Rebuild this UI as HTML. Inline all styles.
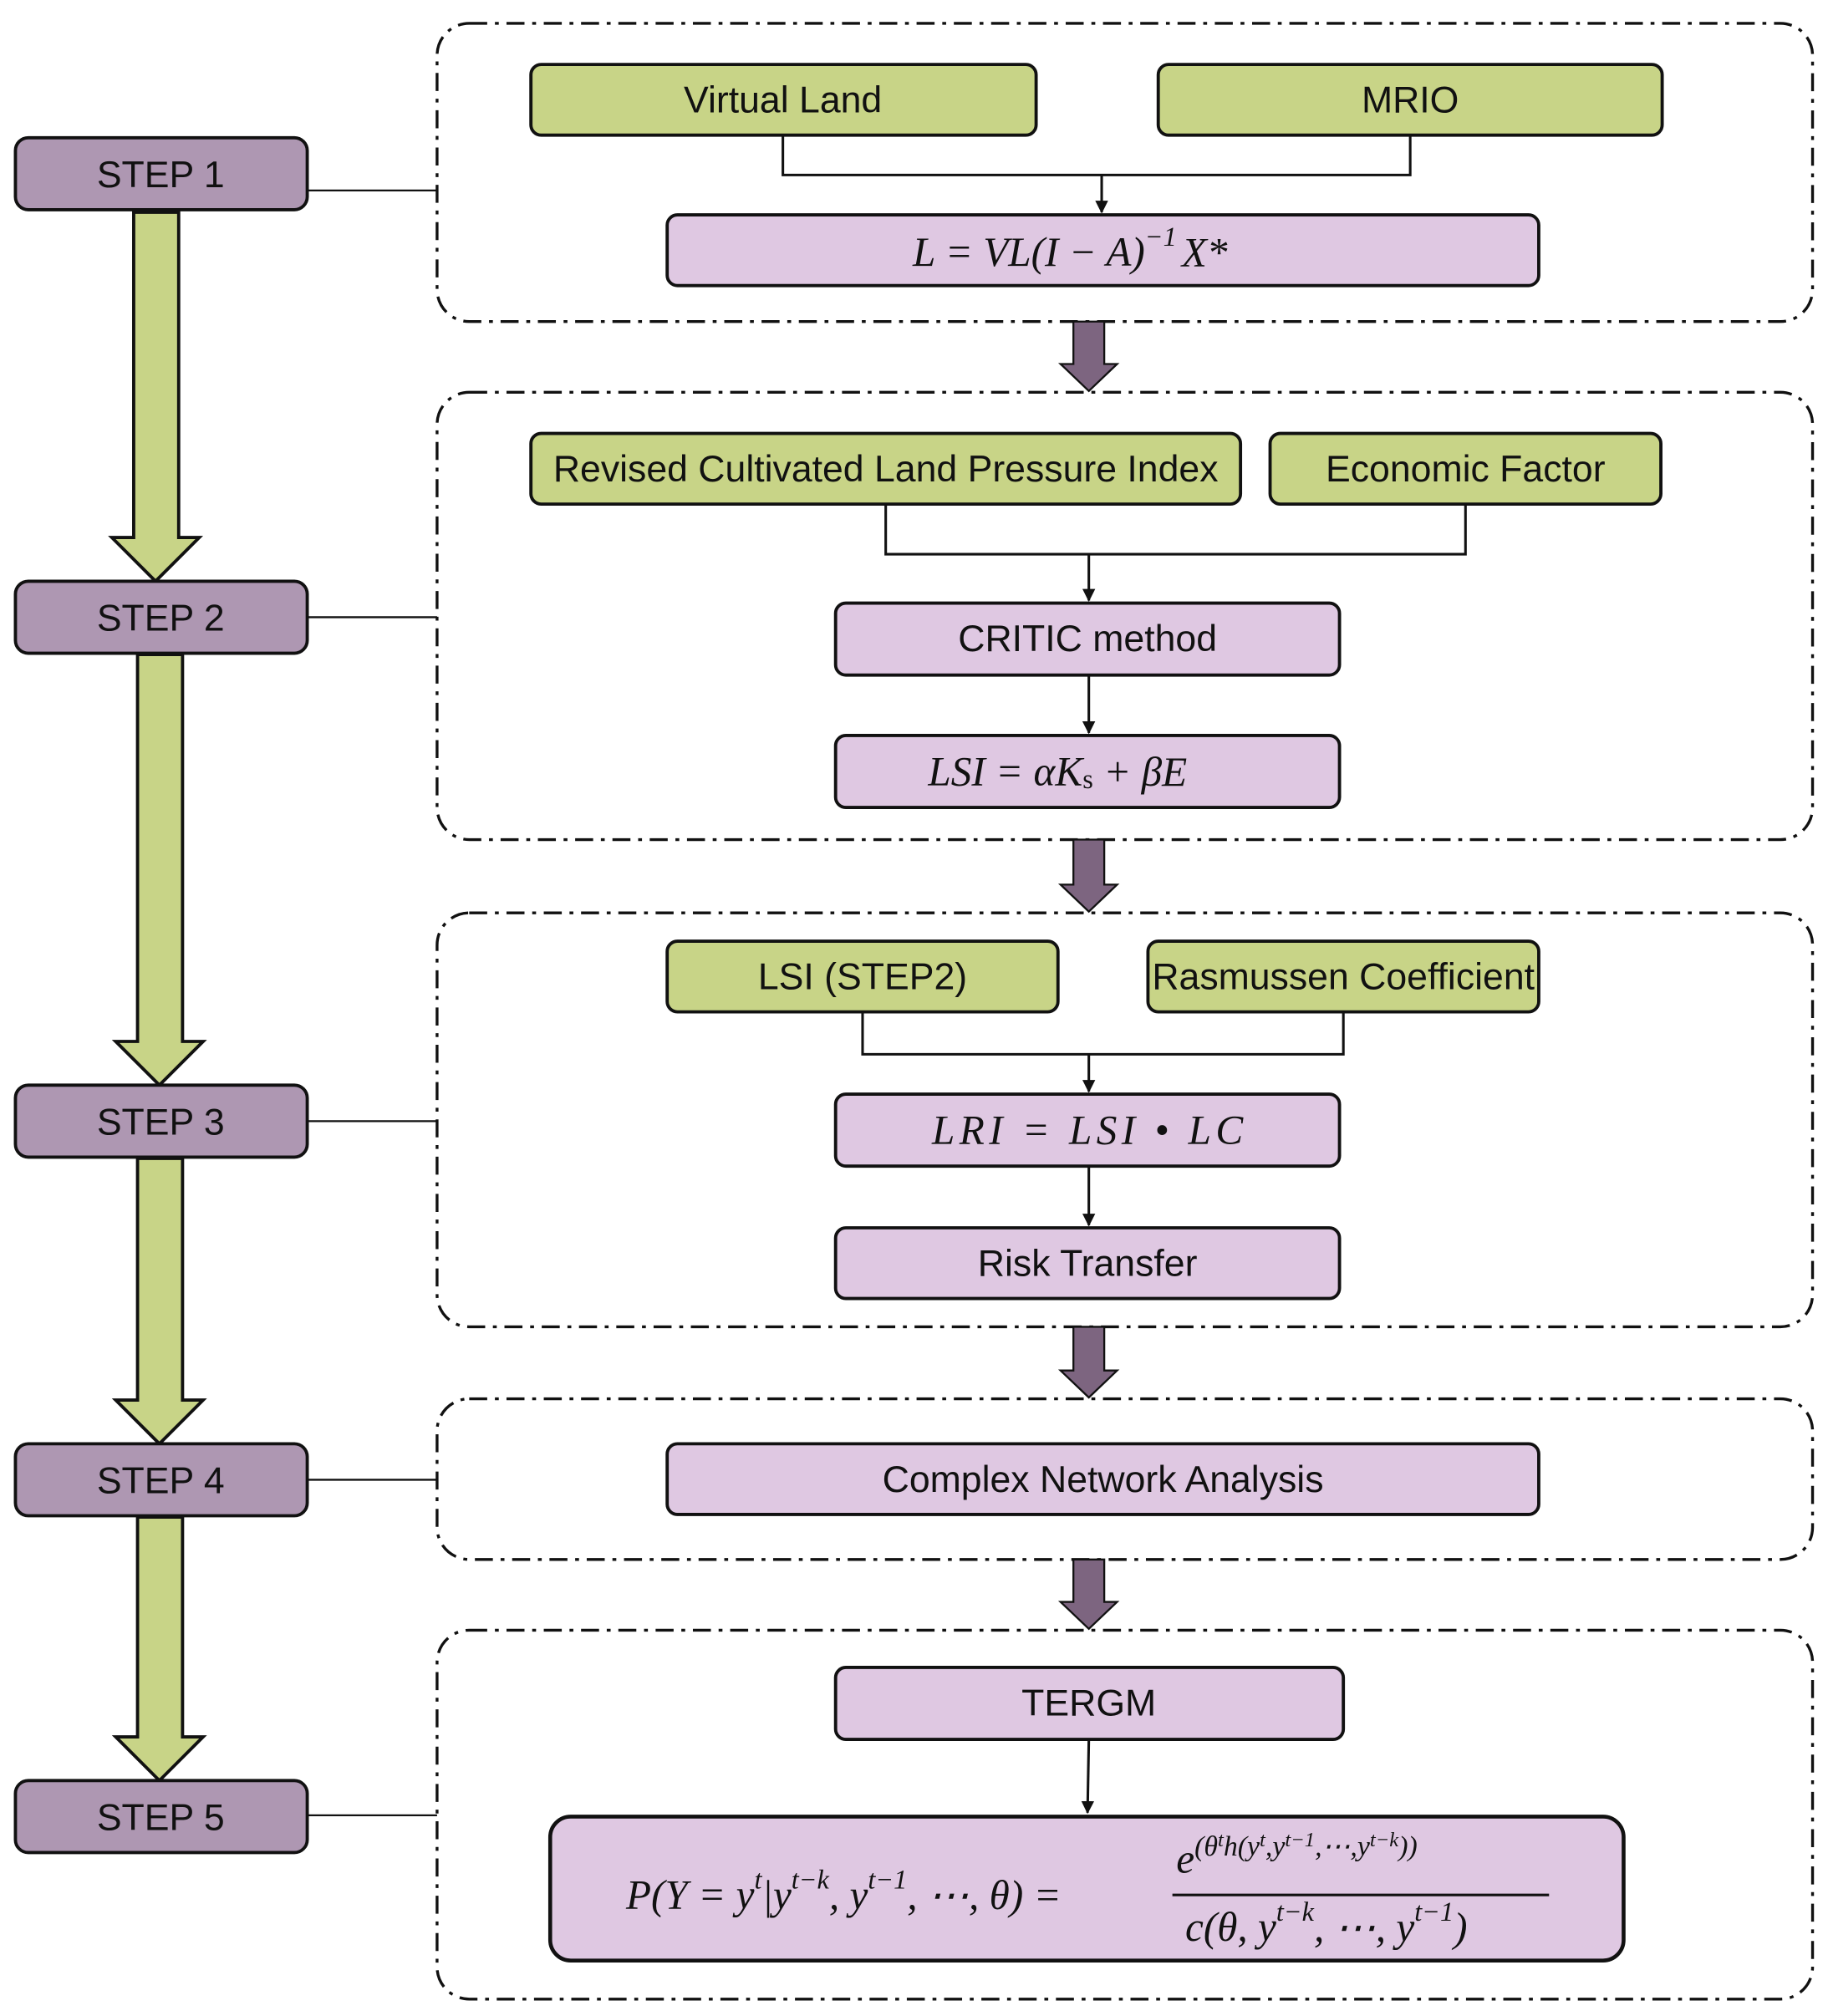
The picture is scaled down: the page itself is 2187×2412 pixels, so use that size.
<!DOCTYPE html>
<html><head><meta charset="utf-8"><style>
html,body{margin:0;padding:0;background:#fff}
svg{display:block}
.t{font-family:"Liberation Sans",sans-serif;font-size:29px;fill:#111;text-anchor:middle;dominant-baseline:central}
.m{font-family:"Liberation Serif",serif;font-style:italic;font-size:32px;fill:#111;dominant-baseline:central}
.g{fill:#c8d487;stroke:#111;stroke-width:2.5}
.p{fill:#dfc8e2;stroke:#111;stroke-width:2.5}
.s{fill:#ae97b2;stroke:#111;stroke-width:2.5}
.d{fill:none;stroke:#111;stroke-width:2.2;stroke-dasharray:14 6 3 6}
.l{fill:none;stroke:#111;stroke-width:2}
.ga{fill:#c8d487;stroke:#111;stroke-width:2.5}
.pa{fill:#7d6580;stroke:#111;stroke-width:1.5}
</style></head><body>
<svg width="2187" height="2412" viewBox="0 0 1422 1568" xmlns="http://www.w3.org/2000/svg">
<defs><marker id="ah" markerWidth="10" markerHeight="10" refX="9" refY="5" orient="auto" markerUnits="userSpaceOnUse"><path d="M0,0 L10,5 L0,10z" fill="#111"/></marker></defs>

<path class="ga" d="M104,165 H139 V418 H155 L121,452 L87,418 H104Z"/>
<path class="ga" d="M107,509 H142 V810 H158 L124,844 L90,810 H107Z"/>
<path class="ga" d="M107,901 H142 V1089 H158 L124,1123 L90,1089 H107Z"/>
<path class="ga" d="M107,1180 H142 V1351 H158 L124,1385 L90,1351 H107Z"/>

<rect class="s" x="12" y="107" width="227" height="56" rx="10"/><text class="t" x="125" y="136">STEP 1</text>
<rect class="s" x="12" y="452" width="227" height="56" rx="10"/><text class="t" x="125" y="481">STEP 2</text>
<rect class="s" x="12" y="844" width="227" height="56" rx="10"/><text class="t" x="125" y="873">STEP 3</text>
<rect class="s" x="12" y="1123" width="227" height="56" rx="10"/><text class="t" x="125" y="1152">STEP 4</text>
<rect class="s" x="12" y="1385" width="227" height="56" rx="10"/><text class="t" x="125" y="1414">STEP 5</text>

<path class="l" d="M239,148 H340 M239,480 H340 M239,872 H340 M239,1151 H340 M239,1412 H340" style="stroke-width:1.5"/>

<rect class="d" x="340" y="18" width="1070" height="232" rx="25"/>
<rect class="d" x="340" y="305" width="1070" height="348" rx="25"/>
<rect class="d" x="340" y="710" width="1070" height="322" rx="25"/>
<rect class="d" x="340" y="1088" width="1070" height="125" rx="25"/>
<rect class="d" x="340" y="1268" width="1070" height="287" rx="25"/>

<path class="pa" d="M835,250 H859 V283 H869 L847,304 L825,283 H835Z"/>
<path class="pa" d="M835,653 H859 V688 H869 L847,709 L825,688 H835Z"/>
<path class="pa" d="M835,1032 H859 V1066 H869 L847,1087 L825,1066 H835Z"/>
<path class="pa" d="M835,1213 H859 V1246 H869 L847,1267 L825,1246 H835Z"/>

<rect class="g" x="413" y="50" width="393" height="55" rx="8"/><text class="t" x="609" y="78">Virtual Land</text>
<rect class="g" x="901" y="50" width="392" height="55" rx="8"/><text class="t" x="1097" y="78">MRIO</text>
<path class="l" d="M609,105 V136 H1097 V105"/>
<path class="l" d="M857,136 V165" marker-end="url(#ah)"/>
<rect class="p" x="519" y="167" width="678" height="55" rx="8"/>
<text class="m" x="710" y="196">L = VL(I − A)<tspan dy="-12" font-size="21">−1</tspan><tspan dy="12" dx="4">X*</tspan></text>

<rect class="g" x="413" y="337" width="552" height="55" rx="8"/><text class="t" x="689" y="365">Revised Cultivated Land Pressure Index</text>
<rect class="g" x="988" y="337" width="304" height="55" rx="8"/><text class="t" x="1140" y="365">Economic Factor</text>
<path class="l" d="M689,392 V431 H1140 V392"/>
<path class="l" d="M847,431 V467" marker-end="url(#ah)"/>
<rect class="p" x="650" y="469" width="392" height="56" rx="8"/><text class="t" x="846" y="497">CRITIC method</text>
<path class="l" d="M847,525 V570" marker-end="url(#ah)"/>
<rect class="p" x="650" y="572" width="392" height="56" rx="8"/>
<text class="m" x="722" y="600">LSI = αK<tspan dy="6" font-size="21" font-style="normal">s</tspan><tspan dy="-6"> + βE</tspan></text>

<rect class="g" x="519" y="732" width="304" height="55" rx="8"/><text class="t" x="671" y="760">LSI (STEP2)</text>
<rect class="g" x="893" y="732" width="304" height="55" rx="8"/><text class="t" x="1045" y="760">Rasmussen Coefficient</text>
<path class="l" d="M671,787 V820 H1045 V787"/>
<path class="l" d="M847,820 V849" marker-end="url(#ah)"/>
<rect class="p" x="650" y="851" width="392" height="56" rx="8"/>
<text class="m" x="725" y="879" textLength="242">LRI = LSI • LC</text>
<path class="l" d="M847,907 V953" marker-end="url(#ah)"/>
<rect class="p" x="650" y="955" width="392" height="55" rx="8"/><text class="t" x="846" y="983">Risk Transfer</text>

<rect class="p" x="519" y="1123" width="678" height="55" rx="8"/><text class="t" x="858" y="1151">Complex Network Analysis</text>

<rect class="p" x="650" y="1297" width="395" height="56" rx="8"/><text class="t" x="847" y="1325">TERGM</text>
<path class="l" d="M847,1353 L846,1410" marker-end="url(#ah)"/>
<rect class="p" x="428" y="1413" width="835" height="112" rx="16" style="stroke-width:3"/>
<text class="m" x="487" y="1474" font-size="32">P(Y = y<tspan dy="-12" font-size="21">t</tspan><tspan dy="12">|y</tspan><tspan dy="-12" font-size="21">t−k</tspan><tspan dy="12">, y</tspan><tspan dy="-12" font-size="21">t−1</tspan><tspan dy="12">, ⋯, θ) =</tspan></text>
<line x1="912" y1="1474" x2="1205" y2="1474" stroke="#111" stroke-width="2"/>
<text class="m" x="915" y="1446" font-size="34">e<tspan dy="-10" font-size="22">(θ</tspan><tspan dy="-5" font-size="16">t</tspan><tspan dy="5" font-size="22">h(y</tspan><tspan dy="-5" font-size="16">t</tspan><tspan dy="5" font-size="22">,y</tspan><tspan dy="-5" font-size="16">t−1</tspan><tspan dy="5" font-size="22">,⋯,y</tspan><tspan dy="-5" font-size="16">t−k</tspan><tspan dy="5" font-size="22">))</tspan></text>
<text class="m" x="922" y="1499" font-size="32">c(θ, y<tspan dy="-12" font-size="21">t−k</tspan><tspan dy="12">, ⋯, y</tspan><tspan dy="-12" font-size="21">t−1</tspan><tspan dy="12">)</tspan></text>
</svg>
</body></html>
